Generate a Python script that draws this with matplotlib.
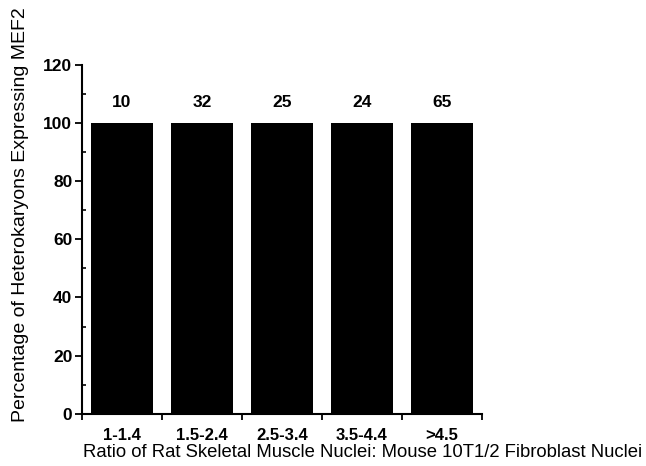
import matplotlib.pyplot as plt
import numpy as np
from matplotlib.ticker import MultipleLocator

ratios = ['1-1.4', '1.5-2.4', '2.5-3.4', '3.5-4.4', '>4.5']
percent = [100, 100, 100, 100, 100]
n_counted = [10, 32, 25, 24, 65]

plt.rcParams['font.family'] = ['Liberation Sans', 'DejaVu Sans']

fig = plt.figure(figsize=(6.46, 4.66), dpi=100)
ax = fig.add_axes([0.127, 0.112, 0.619, 0.749])

x = np.arange(len(ratios))
bars = ax.bar(x, percent, width=0.775, color='black')
for b, n in zip(bars, n_counted):
    ax.text(b.get_x() + b.get_width() / 2, b.get_height() + 4.5, str(n),
            ha='center', va='bottom', fontsize=12.5, fontweight='bold')

ax.set_xlim(-0.5, len(ratios) - 0.5)
ax.set_ylim(0, 120)
ax.set_yticks(range(0, 121, 20))
ax.yaxis.set_minor_locator(MultipleLocator(10))
ax.set_xticks(np.arange(-0.5, len(ratios), 1.0))
ax.set_xticklabels([])
for xi, lab in zip(x, ratios):
    ax.text(xi, -0.04, lab, transform=ax.get_xaxis_transform(),
            ha='center', va='top', fontsize=12, fontweight='bold')

for s in ['top', 'right']:
    ax.spines[s].set_visible(False)
for s in ['left', 'bottom']:
    ax.spines[s].set_linewidth(1.5)
ax.tick_params(axis='y', which='major', direction='out', length=5, width=1.3,
               labelsize=12.5, pad=2)
ax.tick_params(axis='y', which='minor', direction='in', length=3, width=1.2)
ax.tick_params(axis='x', which='major', direction='out', length=4, width=1.3)
for t in ax.get_yticklabels():
    t.set_fontweight('bold')

fig.text(0.031, 0.539, 'Percentage of Heterokaryons Expressing MEF2',
         rotation=90, ha='center', va='center', fontsize=14)
fig.text(0.561, 0.03, 'Ratio of Rat Skeletal Muscle Nuclei: Mouse 10T1/2 Fibroblast Nuclei',
         ha='center', va='center', fontsize=13.3)

fig.savefig('out.png', dpi=100)
